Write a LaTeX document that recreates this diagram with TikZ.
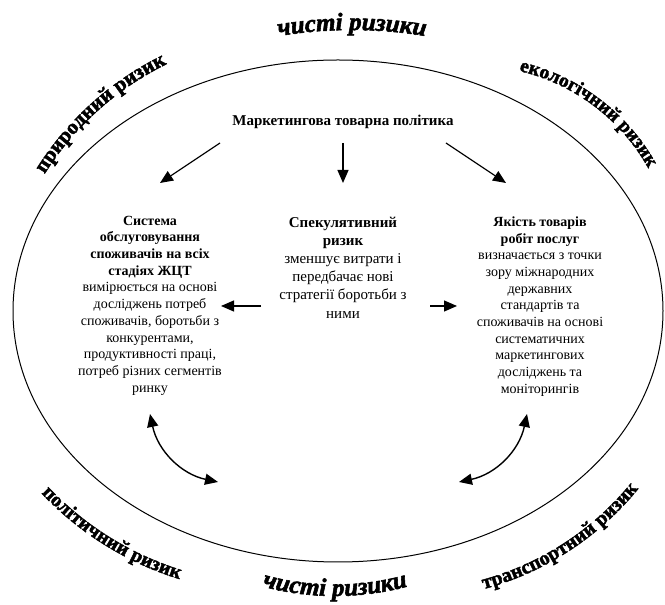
\documentclass[tikz,border=0pt]{standalone}
\usepackage{fontspec}
\setmainfont{Liberation Serif}
\newfontfamily\riskfam{Liberation Serif}[BoldFeatures={FakeBold=2.2}, BoldItalicFeatures={FakeBold=2.2}]
\usetikzlibrary{arrows.meta,decorations.text,calc}
\tikzset{
  txt/.style={align=center, inner sep=0pt, font=\fontsize{14}{16.7}\selectfont},
  arr/.style={line width=1.2pt, -{Triangle[length=13pt,width=11pt]}},
  darr/.style={line width=1.4pt, {Triangle[length=13pt,width=11pt]}-{Triangle[length=13pt,width=11pt]}},
  risk/.style={decorate, decoration={text along path, text align=center, text={#1}}}
}
% #1 x, #2 y (baseline middle), #3 reading direction, #4 radius, #5 text
\newcommand\riskCW[5]{%
  \path[risk={#5}] ($(#1,#2)+({#3-90}:#4)+({#3+90+8000/#4}:#4)$)
    arc[start angle={#3+90+8000/#4}, end angle={#3+90-8000/#4}, radius=#4];}
\newcommand\riskCCW[5]{%
  \path[risk={#5}] ($(#1,#2)+({#3+90}:#4)+({#3-90-8000/#4}:#4)$)
    arc[start angle={#3-90-8000/#4}, end angle={#3-90+8000/#4}, radius=#4];}
\begin{document}
\begin{tikzpicture}[x=1pt,y=1pt]
\useasboundingbox (0,0) rectangle (665,605);
% oval
\draw[line width=1pt] (338,294) ellipse [x radius=325, y radius=251];
% risk labels
\riskCW{352}{575}{0}{450}{|\riskfam\bfseries\itshape\fontsize{25}{25}\selectfont|чисті ризики}
\riskCCW{335}{9}{0}{280}{|\riskfam\bfseries\itshape\fontsize{25}{25}\selectfont|чисті ризики}
\riskCW{98}{494.5}{42}{300}{|\riskfam\bfseries\fontsize{21}{21}\selectfont|природний ризик}
\riskCW{594}{499}{-37}{200}{|\riskfam\bfseries\fontsize{19.5}{19.5}\selectfont|екологічний ризик}
\riskCCW{104.8}{60}{-31.9}{320}{|\riskfam\bfseries\fontsize{20}{20}\selectfont|політичний ризик}
\riskCCW{569}{54}{33}{300}{|\riskfam\bfseries\fontsize{20}{20}\selectfont|транспортний ризик}
% texts
\node[font=\bfseries\fontsize{15}{18}\selectfont, inner sep=0pt] (title) at (343,483) {Маркетингова товарна політика};
\node[txt] (left) at (150,299.5) {\textbf{Система}\\\textbf{обслуговування}\\\textbf{споживачів на всіх}\\\textbf{стадіях ЖЦТ}\\вимірюється на основі\\досліджень потреб\\споживачів, боротьби з\\конкурентами,\\продуктивності праці,\\потреб різних сегментів\\ринку};
\node[txt, font=\fontsize{15}{18.2}\selectfont] (mid) at (343,337.5) {\textbf{Спекулятивний}\\\textbf{ризик}\\зменшує витрати і\\передбачає нові\\стратегії боротьби з\\ними};
\node[txt] (right) at (540,298.5) {\textbf{Якість товарів}\\\textbf{робіт послуг}\\визначається з точки\\зору міжнародних\\державних\\стандартів та\\споживачів на основі\\систематичних\\маркетингових\\досліджень та\\моніторингів};
% arrow ends
\coordinate (t1) at (220,462); \coordinate (h1) at (160,422);
\coordinate (t2) at (343,462); \coordinate (h2) at (343,422);
\coordinate (t3) at (446,462); \coordinate (h3) at (506,422);
\coordinate (t4) at (261,299); \coordinate (h4) at (221,299);
\coordinate (t5) at (430,299); \coordinate (h5) at (457,299);
\coordinate (c1a) at (150,191); \coordinate (c1b) at (218,123);
\coordinate (c2a) at (527,191); \coordinate (c2b) at (459,123);
\draw[arr] (t1) -- (h1);
\draw[arr] (t2) -- (h2);
\draw[arr] (t3) -- (h3);
\draw[arr] (t4) -- (h4);
\draw[arr] (t5) -- (h5);
\draw[darr] (c1a) to[out=-78, in=168] (c1b);
\draw[darr] (c2a) to[out=-102, in=12] (c2b);
\end{tikzpicture}
\end{document}
